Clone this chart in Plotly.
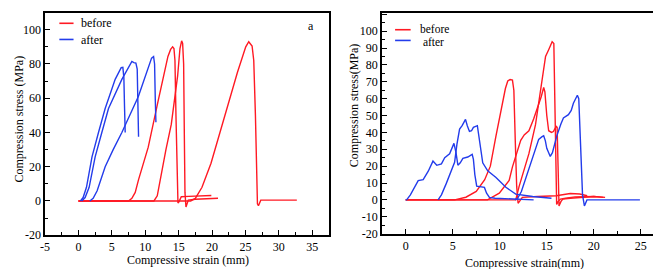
import plotly.graph_objects as go

# ---------------- Panel a data ----------------
a_before1_x = [0, 7.5, 8.0, 8.5, 9.0, 9.7, 10.45, 11.9, 13.4, 13.8, 14.1, 14.3, 14.45, 14.6, 14.75, 14.9, 15.05, 15.4, 16.5, 18.0, 19.9]
a_before1_y = [0, 0, 1.5, 5, 12.5, 21, 31.4, 57.9, 84.4, 88.5, 90, 89, 82, 50, 15, -1.2, -0.5, 2.5, 2.7, 3.0, 3.2]
a_before2_x = [0, 11.3, 11.8, 12.4, 13.1, 13.9, 14.4, 14.85, 15.2, 15.45, 15.6, 15.75, 15.85, 15.95, 16.1, 16.3, 16.45, 17.5, 19.0, 20.9]
a_before2_y = [0, 0, 3, 16.3, 30, 44.7, 58, 73, 89, 93.5, 92, 80, 40, 5, -3.5, -1, 0.5, 1.0, 1.4, 1.6]
a_before3_x = [0, 16.8, 17.5, 18.5, 19.85, 21.8, 23.8, 25.05, 25.5, 26.0, 26.25, 26.5, 26.8, 26.95, 27.3, 32.7]
a_before3_y = [0, 0, 1.5, 8, 22, 48.5, 75, 90, 93, 90.5, 82, 50, -1.7, -2.8, 0.5, 0.5]
a_after1_x = [0.3, 0.7, 1.2, 2.03, 3.0, 4.0, 5.5, 6.0, 6.4, 6.65, 6.8, 6.9, 7.0]
a_after1_y = [0, 2, 8, 25.8, 40, 54, 71, 75, 77.8, 78, 72, 55, 40]
a_after2_x = [0.5, 1.0, 1.6, 2.5, 3.5, 4.5, 6.5, 7.3, 8.0, 8.3, 8.6, 8.8, 8.9, 9.0]
a_after2_y = [0, 2, 8, 25.8, 40, 54, 71, 77, 81.5, 80.8, 80.5, 77, 55, 37.5]
a_after3_x = [1.7, 2.2, 2.8, 4.0, 5.2, 6.5, 8.97, 10.0, 10.95, 11.25, 11.4, 11.5, 11.6]
a_after3_y = [0, 1.5, 6, 20, 30, 40, 61, 72, 83.4, 84.3, 80, 60, 46]

# ---------------- Panel b data ----------------
b_before1_x = [0, 5.2, 6.4, 7.5, 8.4, 9.0, 9.6, 10.2, 10.6, 10.85, 11.1, 11.35, 11.5, 11.65, 11.8, 11.95, 12.1, 12.4, 14.0, 16.0, 17.5, 18.5, 19.3]
b_before1_y = [0, 0, 1.6, 5, 12, 20, 38, 56, 66, 70.5, 71.3, 71, 65, 35, 8, -2, -1, 1.5, 2, 2.5, 3.8, 3.5, 2.5]
b_before2_x = [0, 8.7, 9.95, 11.0, 11.35, 11.7, 12.23, 12.6, 13.1, 13.6, 14.0, 14.4, 14.67, 14.8, 15.0, 15.2, 15.5, 15.7, 16.0, 16.1, 16.2, 16.3, 16.5, 16.7, 17.5, 19.0, 20.0, 21.0]
b_before2_y = [0, 0, 4, 11.6, 19.6, 26, 35.3, 38.5, 41, 48, 54, 61, 66.6, 64, 50, 41, 40, 40.5, 43.6, 43, 20, -3.6, -1, 0.5, 1, 1.5, 2, 1.5]
b_before3_x = [0, 11.7, 12.06, 12.6, 13.1, 13.8, 14.35, 14.87, 15.2, 15.57, 15.75, 15.85, 15.95, 16.05, 16.2, 16.45, 17.0, 18.0, 20.0, 21.2]
b_before3_y = [0, 0, 8, 18, 27.4, 44.6, 64, 85, 89, 93.7, 92.7, 60, 10, -2.7, -1, 0.5, 1, 1.8, 2, 1.5]
b_after1_x = [0, 0.1, 0.5, 1.0, 1.33, 1.86, 2.4, 2.9, 3.3, 3.8, 4.15, 4.67, 5.13, 5.35, 5.55, 5.8, 6.08, 6.6, 7.07, 7.2, 7.35, 7.55, 8.0, 8.37, 8.6, 8.9, 9.5, 11.0, 13.6]
b_after1_y = [0, 0, 3, 8, 11.4, 12, 17, 23, 20.5, 21.4, 25, 27.3, 33.5, 28, 20.6, 22, 24.6, 25.4, 27, 24, 15, 8.2, 7.8, 7.4, 4, 1.5, 1, 0.5, 0]
b_after2_x = [3.44, 3.8, 4.32, 4.8, 5.2, 5.45, 5.73, 6.0, 6.36, 6.55, 6.78, 7.0, 7.2, 7.62, 7.8, 8.19, 8.72, 9.6, 10.65, 11.7, 13.5, 15.5]
b_after2_y = [0, 3, 9.8, 17, 22.3, 33, 42, 44, 47.7, 44, 40.6, 41, 43, 44, 36, 22, 17.2, 13.3, 7.5, 3.4, 2, 1]
b_after3_x = [11.6, 11.9, 12.3, 12.76, 13.2, 13.6, 14.14, 14.5, 14.67, 14.85, 15.0, 15.2, 15.37, 15.6, 16.07, 16.5, 16.77, 17.3, 17.6, 17.83, 18.1, 18.25, 18.4, 18.6, 18.8, 19.0, 19.27, 20.0, 24.9]
b_after3_y = [0, 1, 5, 12.9, 20, 26.3, 35.9, 37.5, 38, 35, 30.6, 28, 25.8, 28, 38, 45, 48.6, 50.5, 53, 57.3, 61, 62, 60, 30, 3, -3.6, 0, 0, 0]

# tick labels (hyphen minus as in the original)
a_xticks = [-5, 0, 5, 10, 15, 20, 25, 30, 35]
a_yticks = [-20, 0, 20, 40, 60, 80, 100]
b_xticks = [0, 5, 10, 15, 20, 25]
b_yticks = [-20, -10, 0, 10, 20, 30, 40, 50, 60, 70, 80, 90, 100, 110]

def labels(vals):
    return [str(v) for v in vals]

legend_labels_a = ["before", "after"]
legend_labels_b = ["before", " after"]

RED = "rgb(255,25,35)"
BLUE = "rgb(35,60,235)"
FONT = "Times New Roman, Liberation Serif, DejaVu Serif, serif"
W, H = 661, 269

def px(x):
    return x / W

def py(y):
    return 1 - y / H

fig = go.Figure()

def add(xs, ys, color, xa, ya):
    fig.add_trace(go.Scatter(x=xs, y=ys, mode="lines", line=dict(color=color, width=1.4),
                             xaxis=xa, yaxis=ya, showlegend=False, hoverinfo="skip"))

for xs, ys in [(a_before1_x, a_before1_y), (a_before2_x, a_before2_y), (a_before3_x, a_before3_y)]:
    add(xs, ys, RED, "x", "y")
for xs, ys in [(a_after1_x, a_after1_y), (a_after2_x, a_after2_y), (a_after3_x, a_after3_y)]:
    add(xs, ys, BLUE, "x", "y")
for xs, ys in [(b_before1_x, b_before1_y), (b_before2_x, b_before2_y), (b_before3_x, b_before3_y)]:
    add(xs, ys, RED, "x2", "y2")
for xs, ys in [(b_after1_x, b_after1_y), (b_after2_x, b_after2_y), (b_after3_x, b_after3_y)]:
    add(xs, ys, BLUE, "x2", "y2")

axis_common = dict(showline=True, linecolor="black", linewidth=1.5, mirror=True,
                   ticks="inside", ticklen=5, tickwidth=1.2, tickcolor="black",
                   showgrid=False, zeroline=False, tickmode="array",
                   tickfont=dict(family=FONT, size=12, color="black"))

fig.update_layout(
    width=W, height=H, margin=dict(l=0, r=0, t=0, b=0),
    paper_bgcolor="white", plot_bgcolor="white",
    font=dict(family=FONT, color="black"),
    xaxis=dict(domain=[px(32.3), px(318.3)], range=[-5, 37.5],
               tickvals=a_xticks, ticktext=labels(a_xticks),
               minor=dict(ticks="inside", dtick=2.5, tick0=0, ticklen=3, tickcolor="black"),
               anchor="y", **axis_common),
    yaxis=dict(domain=[py(233.3), py(4.7)], range=[-20, 110],
               tickvals=a_yticks, ticktext=labels(a_yticks),
               minor=dict(ticks="inside", dtick=10, tick0=0, ticklen=3, tickcolor="black"),
               anchor="x", **axis_common),
    xaxis2=dict(domain=[px(371.7), px(655)], range=[-2.53, 27.36],
                tickvals=b_xticks, ticktext=labels(b_xticks),
                minor=dict(ticks="inside", dtick=2.5, tick0=0, ticklen=3, tickcolor="black"),
                anchor="y2", **axis_common),
    yaxis2=dict(domain=[py(231.7), py(4.7)], range=[-20, 111],
                tickvals=b_yticks, ticktext=labels(b_yticks),
                minor=dict(ticks="inside", dtick=5, tick0=0, ticklen=3, tickcolor="black"),
                anchor="x2", **axis_common),
)

ann = []
def text(x, y, s, size=12, angle=0, xanchor="center"):
    ann.append(dict(x=px(x), y=py(y), xref="paper", yref="paper", text=s, showarrow=False,
                    xanchor=xanchor, yanchor="middle", textangle=angle,
                    font=dict(family=FONT, size=size, color="black")))

# axis titles
text(6, 113.5, "Compression stress (MPa)", angle=-90)
text(176, 259, "Compressive strain (mm)")
text(344, 99.5, "Compression stress(MPa)", angle=-90)
text(515.7, 262, "Compressive strain(mm)")
# panel letters
text(300, 18, "a")
text(648, 19, "b")
# legends
text(66, 15, legend_labels_a[0], xanchor="left")
text(66, 33, legend_labels_a[1], xanchor="left")
text(407.7, 22, legend_labels_b[0], size=11.5, xanchor="left")
text(407.7, 35, legend_labels_b[1], size=11.5, xanchor="left")
fig.update_layout(annotations=ann)

shapes = []
for (x0, x1, y, c) in [(46.7, 61, 15.7, RED), (46.7, 61, 32.3, BLUE),
                       (385, 400.7, 22.3, RED), (385, 400.7, 33.3, BLUE)]:
    shapes.append(dict(type="line", xref="paper", yref="paper", x0=px(x0), x1=px(x1),
                       y0=py(y), y1=py(y), line=dict(color=c, width=1.6)))
fig.update_layout(shapes=shapes)

fig.write_html("out.html")
